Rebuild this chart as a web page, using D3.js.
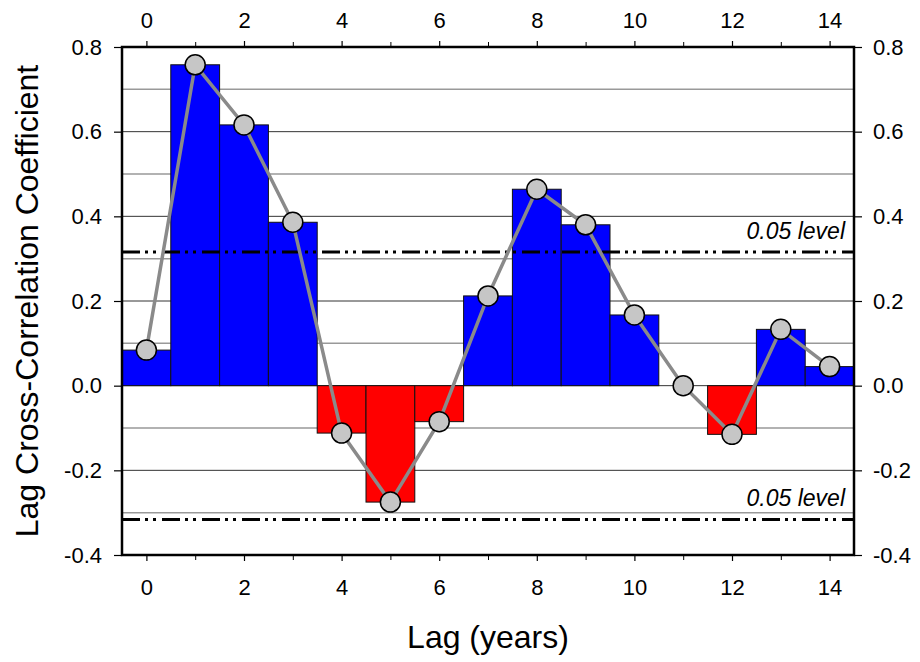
<!DOCTYPE html>
<html>
<head>
<meta charset="utf-8">
<script src="https://cdn.jsdelivr.net/npm/d3@7"></script>
<style>
  html, body { margin: 0; padding: 0; background: #fff; }
  svg text { font-family: "Liberation Sans", Arial, sans-serif; fill: #000; }
</style>
</head>
<body>
<div id="chartContainer"></div>
<script>
const lags = [0, 1, 2, 3, 4, 5, 6, 7, 8, 9, 10, 11, 12, 13, 14];
const coefficients = [0.084, 0.758, 0.616, 0.386, -0.112, -0.275, -0.085, 0.212, 0.464, 0.380, 0.167, 0.0, -0.115, 0.133, 0.045];
const xTicks = [0, 2, 4, 6, 8, 10, 12, 14];
const yTicks = [-0.4, -0.2, 0.0, 0.2, 0.4, 0.6, 0.8];
const significance = [0.316, -0.316];

document.addEventListener('DOMContentLoaded', () => {
    const width = 920, height = 662;
    const margin = { top: 47, right: 66, bottom: 107, left: 122 };
    const innerW = width - margin.left - margin.right;
    const innerH = height - margin.top - margin.bottom;

    const svg = d3.select("#chartContainer")
        .append("svg")
        .attr("width", width)
        .attr("height", height);

    const g = svg.append("g")
        .attr("transform", `translate(${margin.left},${margin.top})`);

    const x = d3.scaleLinear().domain([-0.5, 14.5]).range([0, innerW]);
    const y = d3.scaleLinear().domain([-0.4, 0.8]).range([innerH, 0]);

    // grid lines every 0.1
    const gridVals = d3.range(-3, 8).map(v => v / 10);
    g.selectAll('.grid')
        .data(gridVals)
        .enter()
        .append('line')
        .attr('x1', 0).attr('x2', innerW)
        .attr('y1', d => y(d)).attr('y2', d => y(d))
        .attr('stroke', d => Math.round(d * 10) % 2 === 0 ? '#333' : '#999')
        .attr('stroke-width', d => Math.round(d * 10) % 2 === 0 ? 1 : 1.5);

    // bars
    const data = lags.map((l, i) => ({ lag: l, r: coefficients[i] }));
    g.selectAll('.bar')
        .data(data.filter(d => d.r !== 0))
        .enter()
        .append('rect')
        .attr('x', d => x(d.lag - 0.5))
        .attr('width', d => x(d.lag + 0.5) - x(d.lag - 0.5))
        .attr('y', d => y(Math.max(0, d.r)))
        .attr('height', d => Math.abs(y(d.r) - y(0)))
        .attr('fill', d => d.r > 0 ? '#0000ff' : '#ff0000')
        .attr('stroke', '#111')
        .attr('stroke-width', 1);

    // significance lines
    g.selectAll('.sig')
        .data(significance)
        .enter()
        .append('line')
        .attr('x1', 0).attr('x2', innerW)
        .attr('y1', d => y(d)).attr('y2', d => y(d))
        .attr('stroke', '#000')
        .attr('stroke-width', 3)
        .attr('stroke-dasharray', '18,5,3,5,3,6');

    g.selectAll('.sigLabel')
        .data(significance)
        .enter()
        .append('text')
        .attr('x', innerW - 9)
        .attr('y', d => y(d) - 13)
        .attr('text-anchor', 'end')
        .style('font-size', '23px')
        .style('font-style', 'italic')
        .text('0.05 level');

    // connecting line and markers
    const line = d3.line().x(d => x(d.lag)).y(d => y(d.r));
    g.append('path')
        .datum(data)
        .attr('d', line)
        .attr('fill', 'none')
        .attr('stroke', '#8a8a8a')
        .attr('stroke-width', 3.5);

    g.selectAll('.pt')
        .data(data)
        .enter()
        .append('circle')
        .attr('cx', d => x(d.lag))
        .attr('cy', d => y(d.r))
        .attr('r', 10)
        .attr('fill', '#c6c6c6')
        .attr('stroke', '#000')
        .attr('stroke-width', 1.5);

    // axes
    const fmt = d => d3.format('.1f')(d).replace('−', '-');
    const styleAxis = (sel) => {
        sel.select('.domain').remove();
        sel.selectAll('.tick line').attr('stroke', '#000').attr('stroke-width', 1.2);
        sel.selectAll('.tick text').attr('font-size', null)
            .style('font-size', '22px').style('font-family', '"Liberation Sans", Arial, sans-serif');
        sel.attr('font-size', 22);
    };

    const xMinor = d3.range(1, 15, 2);

    const xb = g.append('g').attr('transform', `translate(0,${innerH})`)
        .call(d3.axisBottom(x).tickValues(xTicks).tickFormat(d3.format('d')).tickSize(6).tickPadding(18));
    styleAxis(xb);
    const xt = g.append('g')
        .call(d3.axisTop(x).tickValues(xTicks).tickFormat(d3.format('d')).tickSize(6).tickPadding(13));
    styleAxis(xt);
    g.append('g').attr('transform', `translate(0,${innerH})`)
        .call(d3.axisBottom(x).tickValues(xMinor).tickFormat('').tickSize(5))
        .call(s => { s.select('.domain').remove(); s.selectAll('line').attr('stroke', '#000'); });
    g.append('g')
        .call(d3.axisTop(x).tickValues(xMinor).tickFormat('').tickSize(5))
        .call(s => { s.select('.domain').remove(); s.selectAll('line').attr('stroke', '#000'); });

    const yl = g.append('g')
        .call(d3.axisLeft(y).tickValues(yTicks).tickFormat(fmt).tickSize(8).tickPadding(12));
    styleAxis(yl);
    const yr = g.append('g').attr('transform', `translate(${innerW},0)`)
        .call(d3.axisRight(y).tickValues(yTicks).tickFormat(fmt).tickSize(8).tickPadding(11));
    styleAxis(yr);

    // frame
    g.append('rect')
        .attr('x', 0).attr('y', 0)
        .attr('width', innerW).attr('height', innerH)
        .attr('fill', 'none')
        .attr('stroke', '#000')
        .attr('stroke-width', 2.5);

    // titles
    svg.append('text')
        .attr('x', margin.left + innerW / 2)
        .attr('y', 648)
        .attr('text-anchor', 'middle')
        .style('font-size', '32px')
        .text('Lag (years)');

    svg.append('text')
        .attr('transform', `translate(38,${margin.top + innerH / 2}) rotate(-90)`)
        .attr('text-anchor', 'middle')
        .style('font-size', '32px')
        .text('Lag Cross-Correlation Coefficient');
});
</script>
</body>
</html>
